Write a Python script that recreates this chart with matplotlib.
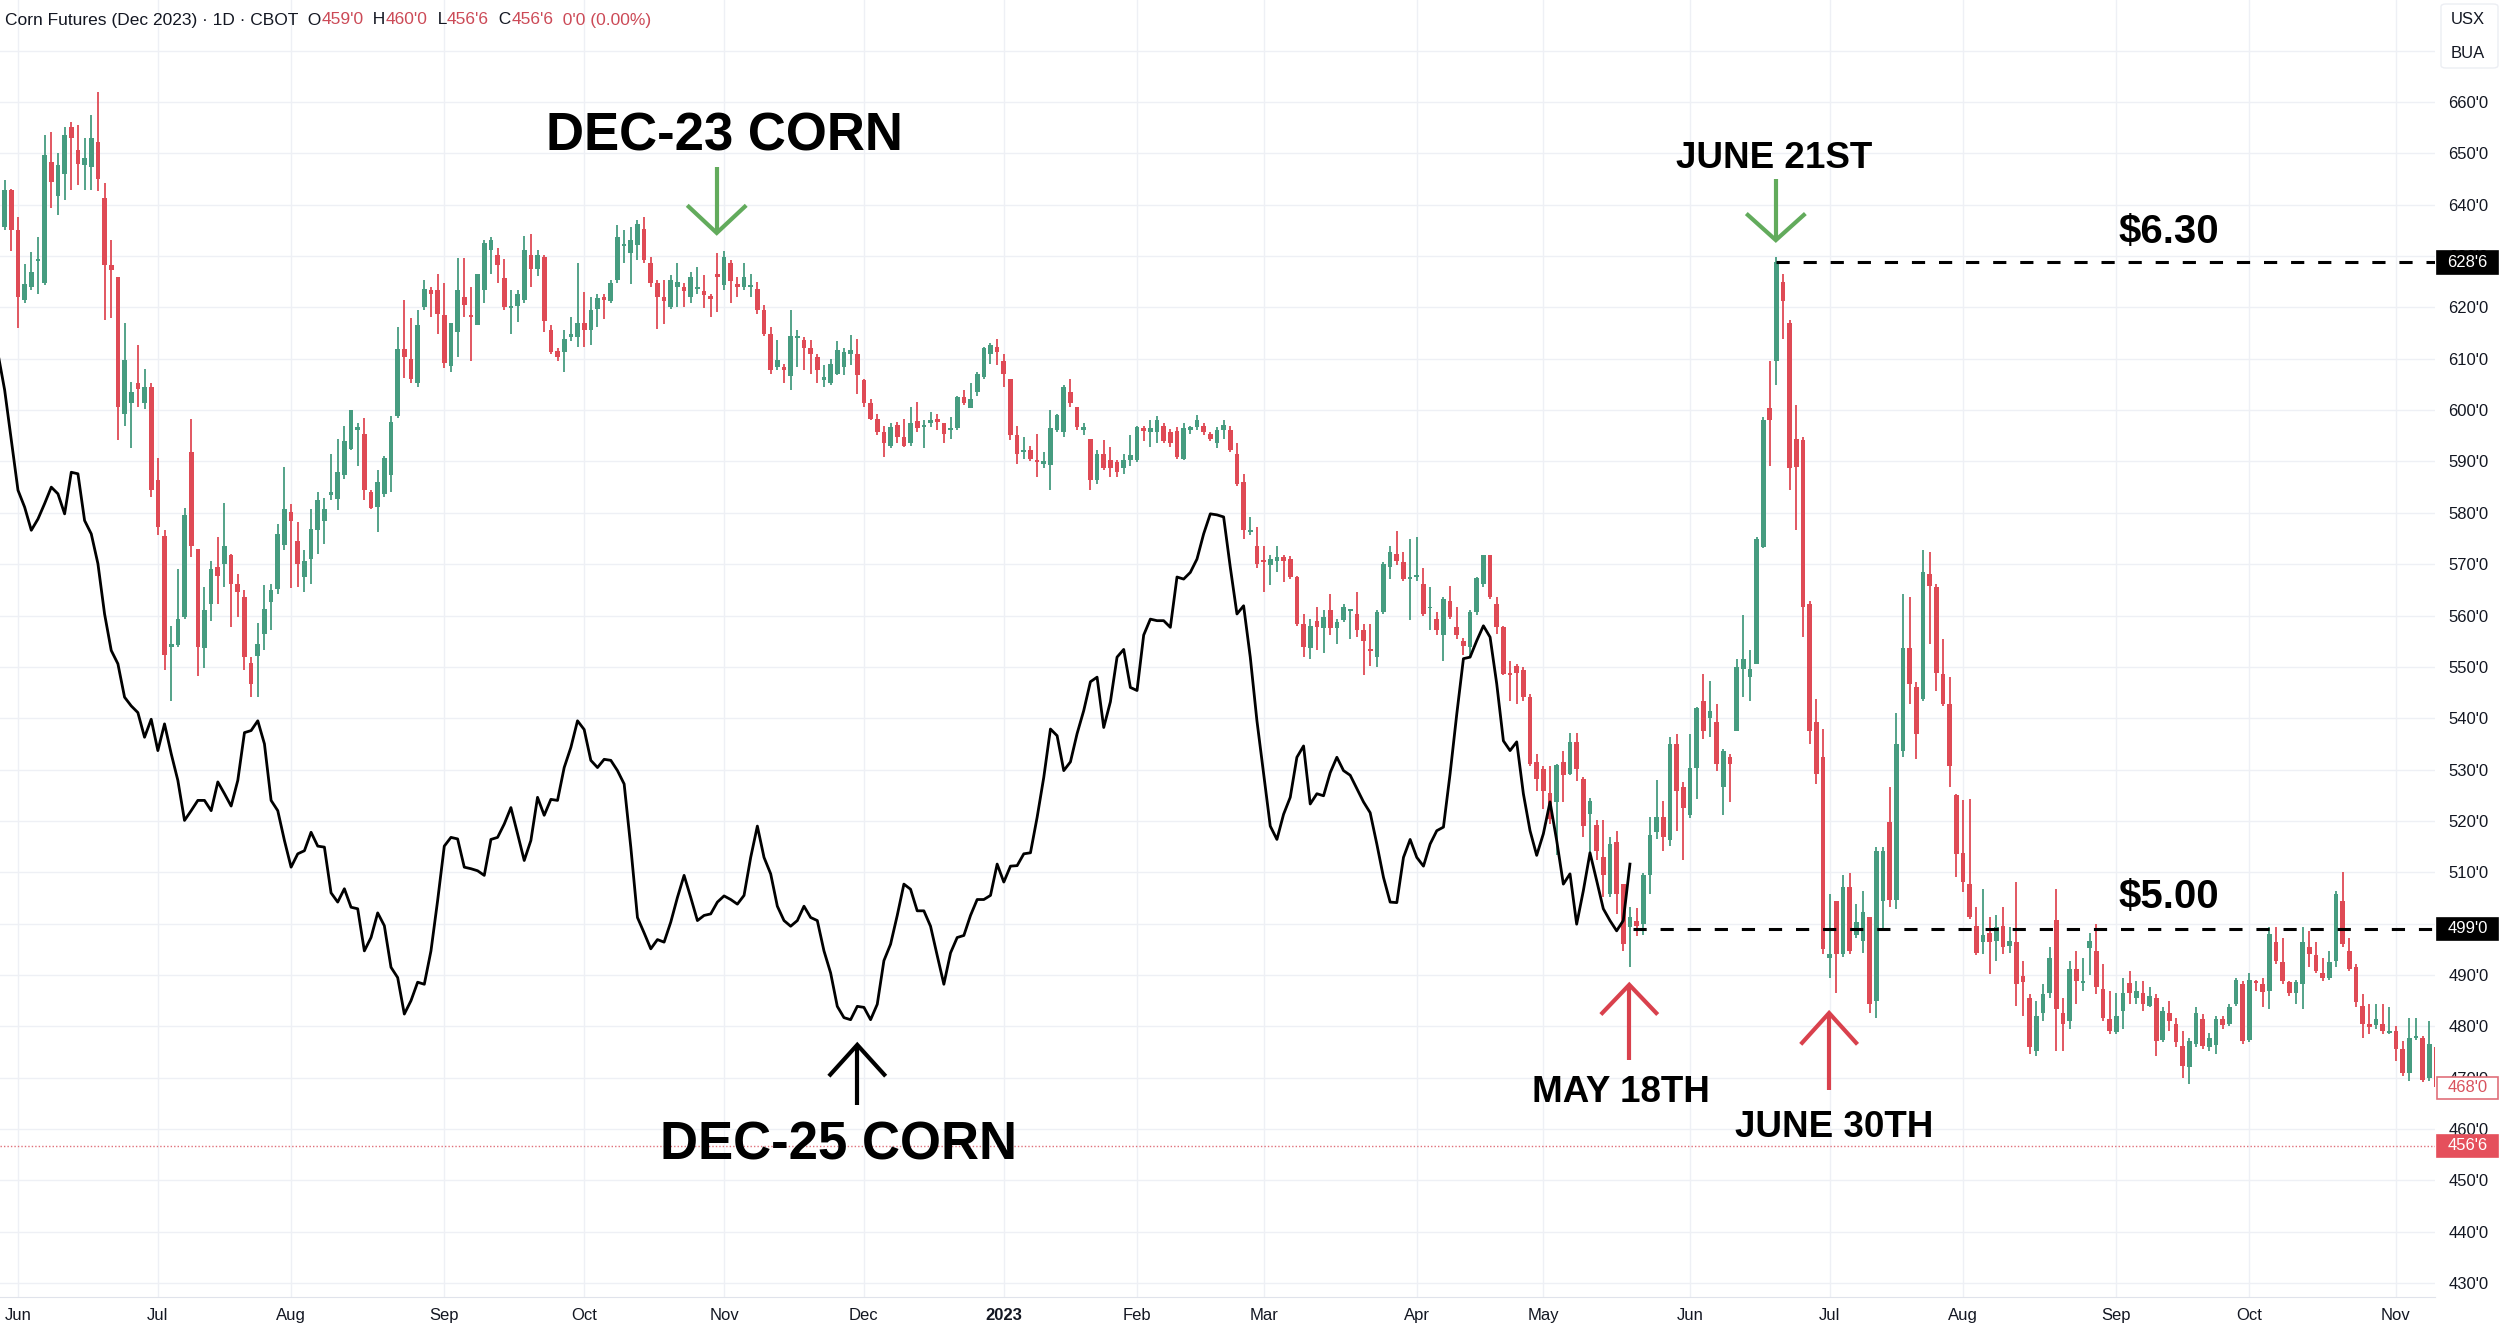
import numpy as np
import pandas as pd
import matplotlib
matplotlib.use("Agg")
import matplotlib.pyplot as plt
import matplotlib.transforms as mtransforms
from matplotlib.patches import Rectangle, FancyBboxPatch

plt.rcParams['font.family'] = ['Liberation Sans', 'DejaVu Sans']
plt.rcParams['lines.scale_dashes'] = False

# CBOT trading calendar for the window shown (index 0 = 1 Jun 2022)
start_date = '2022-05-26'
end_date = '2023-11-09'
holidays = ['2022-05-30', '2022-06-20', '2022-07-04', '2022-09-05', '2022-11-24',
            '2022-12-26', '2023-01-02', '2023-01-16', '2023-02-20', '2023-04-07',
            '2023-05-29', '2023-06-19', '2023-07-04', '2023-09-04']

# Dec-23 corn daily OHLC (cents/bu)
opens = [
    632.0, 635.7, 642.9, 635.0, 621.4, 624.0, 629.0, 624.7, 648.3, 641.6,
    646.0, 655.2, 650.6, 647.8, 647.4, 652.2, 641.3, 628.3, 626.0, 599.3,
    601.3, 605.2, 601.3, 604.5, 586.3, 575.5, 553.8, 554.2, 559.7, 591.8,
    573.0, 553.6, 562.3, 569.4, 570.0, 571.8, 566.2, 563.6, 550.8, 552.2,
    556.4, 562.6, 565.2, 573.7, 580.2, 574.6, 567.5, 571.0, 576.6, 578.5,
    583.5, 582.7, 587.4, 592.4, 596.1, 595.4, 584.0, 581.2, 583.7, 587.4,
    598.9, 611.9, 610.0, 605.2, 620.0, 623.4, 623.4, 618.6, 608.5, 615.3,
    622.0, 618.3, 616.6, 623.4, 631.2, 630.2, 625.7, 619.8, 620.3, 621.4,
    630.2, 627.5, 629.9, 615.6, 611.5, 611.4, 614.2, 614.2, 617.0, 615.6,
    619.7, 622.0, 621.2, 625.3, 632.0, 630.5, 632.2, 635.3, 628.6, 624.7,
    622.0, 620.1, 624.0, 624.0, 622.0, 623.6, 623.2, 622.3, 626.6, 624.4,
    628.6, 624.5, 624.0, 624.0, 623.6, 619.5, 614.9, 608.4, 608.4, 606.7,
    614.0, 613.6, 612.1, 610.4, 605.9, 605.2, 607.1, 608.4, 611.0, 611.0,
    605.8, 601.3, 598.3, 595.7, 593.1, 597.1, 594.8, 593.5, 597.8, 596.7,
    597.4, 598.3, 597.4, 596.1, 596.5, 602.6, 600.4, 603.5, 606.5, 611.0,
    612.3, 609.5, 606.1, 595.2, 591.8, 592.2, 590.3, 589.6, 589.3, 596.1,
    595.8, 603.6, 600.6, 596.1, 594.4, 586.3, 591.5, 590.2, 589.8, 588.7,
    590.2, 590.2, 596.5, 595.7, 595.8, 597.0, 595.7, 596.0, 590.5, 596.1,
    596.7, 597.0, 595.4, 593.5, 596.1, 596.1, 591.5, 586.0, 576.3, 573.6,
    570.9, 569.8, 570.7, 571.4, 571.0, 567.5, 558.4, 553.6, 559.0, 557.5,
    561.0, 557.5, 559.1, 560.9, 560.3, 557.1, 553.4, 551.9, 560.6, 569.4,
    572.0, 570.5, 567.2, 567.5, 566.2, 561.4, 559.4, 556.2, 562.9, 557.7,
    555.1, 553.8, 560.6, 566.2, 571.8, 562.3, 557.7, 548.6, 550.2, 549.3,
    544.1, 531.4, 530.2, 525.5, 523.7, 531.4, 529.2, 535.4, 528.1, 521.3,
    519.2, 512.9, 505.8, 515.9, 507.7, 499.3, 500.6, 499.9, 509.4, 517.8,
    520.7, 516.2, 535.0, 526.7, 521.1, 530.4, 543.4, 540.0, 539.3, 526.6,
    532.4, 537.6, 549.6, 548.0, 550.6, 573.3, 600.4, 609.5, 624.9, 616.9,
    594.4, 594.1, 562.3, 539.3, 532.4, 493.3, 504.5, 494.1, 507.1, 497.7,
    496.7, 501.2, 485.0, 504.5, 519.8, 504.7, 533.7, 553.6, 546.0, 543.7,
    568.1, 565.5, 548.6, 542.8, 525.0, 513.8, 507.7, 499.5, 496.4, 498.2,
    496.7, 499.5, 495.6, 496.4, 489.8, 485.6, 475.2, 482.6, 486.5, 500.8,
    482.6, 481.1, 491.2, 488.5, 495.2, 494.7, 487.2, 481.5, 478.9, 483.0,
    488.5, 485.6, 486.5, 483.9, 485.6, 477.4, 482.6, 480.4, 476.1, 472.0,
    476.5, 481.5, 475.9, 476.3, 481.5, 480.4, 484.3, 488.2, 477.4, 488.7,
    488.2, 486.9, 496.4, 492.5, 488.6, 486.5, 488.2, 495.4, 493.8, 490.4,
    489.5, 492.8, 504.5, 494.7, 491.5, 483.9, 480.4, 480.2, 480.4, 478.7,
    479.1, 475.6, 470.9, 477.8, 477.8, 470.0, 475.9]

highs = [
    645.0, 644.8, 643.0, 637.7, 628.5, 630.8, 633.8, 653.5, 654.2, 650.0,
    655.2, 656.2, 655.6, 653.0, 657.5, 662.0, 644.2, 633.1, 626.0, 617.0,
    605.4, 612.6, 608.0, 605.2, 590.6, 576.6, 558.0, 569.0, 580.9, 598.3,
    573.0, 565.5, 570.7, 575.3, 582.0, 572.0, 568.0, 564.9, 551.9, 558.6,
    565.9, 566.2, 577.9, 588.9, 581.8, 578.3, 572.7, 580.7, 584.0, 582.8,
    591.5, 594.4, 597.0, 600.0, 597.4, 598.4, 584.4, 588.3, 591.1, 598.9,
    616.2, 621.4, 617.9, 619.5, 625.3, 624.0, 626.6, 624.7, 616.9, 629.6,
    629.6, 624.0, 626.6, 633.1, 633.8, 631.5, 629.5, 623.4, 623.4, 634.0,
    634.2, 631.2, 630.2, 616.6, 612.0, 615.6, 618.2, 628.6, 623.0, 622.0,
    622.7, 622.7, 625.3, 636.0, 635.0, 635.7, 637.0, 637.7, 629.9, 625.3,
    625.3, 626.4, 628.6, 624.7, 626.9, 627.9, 626.4, 622.7, 630.5, 630.9,
    629.2, 626.0, 628.6, 626.6, 624.9, 620.4, 616.2, 613.6, 609.0, 619.5,
    615.6, 614.2, 613.6, 611.0, 608.7, 610.0, 613.4, 612.0, 614.7, 613.9,
    606.1, 602.2, 599.3, 597.0, 597.4, 597.6, 598.3, 600.6, 601.5, 598.0,
    599.6, 599.3, 597.4, 598.7, 602.8, 603.9, 605.2, 607.4, 612.3, 613.0,
    613.9, 611.0, 606.1, 597.0, 594.8, 593.1, 595.4, 591.8, 600.0, 599.3,
    604.9, 606.1, 600.6, 597.4, 594.4, 592.2, 594.1, 592.8, 590.2, 591.5,
    595.2, 597.0, 597.0, 598.0, 598.9, 597.4, 596.3, 596.7, 597.4, 597.0,
    599.0, 597.4, 595.8, 596.7, 598.0, 597.0, 593.5, 587.6, 579.2, 577.2,
    573.6, 571.8, 573.6, 571.8, 571.6, 567.7, 560.3, 559.3, 561.6, 561.0,
    564.2, 559.3, 562.3, 561.2, 564.5, 558.4, 558.4, 561.0, 570.5, 573.6,
    576.5, 572.3, 574.9, 575.3, 569.2, 565.5, 560.6, 563.6, 565.8, 561.6,
    555.6, 561.0, 567.5, 571.8, 571.8, 563.6, 558.0, 551.2, 550.6, 549.9,
    544.7, 533.1, 530.7, 530.7, 531.1, 533.7, 537.2, 537.2, 528.5, 524.4,
    520.1, 520.1, 516.8, 518.1, 507.7, 503.2, 503.0, 509.9, 520.7, 527.9,
    523.9, 536.3, 536.9, 527.5, 536.9, 542.2, 548.6, 547.3, 542.8, 534.1,
    533.1, 551.5, 560.1, 553.2, 575.3, 598.7, 609.5, 629.9, 626.6, 617.5,
    600.9, 594.8, 562.9, 543.7, 538.0, 505.8, 504.5, 509.4, 509.9, 503.8,
    506.4, 501.2, 514.9, 514.9, 526.6, 541.1, 564.2, 563.6, 547.1, 572.7,
    572.3, 566.2, 555.4, 548.0, 525.3, 524.0, 524.2, 503.2, 506.8, 501.2,
    501.6, 503.2, 499.3, 508.1, 492.8, 486.3, 485.0, 488.2, 495.4, 506.7,
    485.6, 492.8, 494.7, 493.4, 498.2, 499.9, 492.1, 486.9, 486.5, 489.5,
    490.8, 488.9, 488.9, 487.6, 486.3, 483.7, 484.9, 481.7, 479.1, 477.8,
    483.7, 482.4, 478.7, 482.1, 482.1, 484.3, 489.5, 488.9, 490.4, 489.1,
    489.5, 499.3, 499.3, 497.3, 488.9, 489.1, 499.3, 498.5, 496.4, 493.4,
    494.7, 506.4, 510.0, 497.3, 492.1, 486.3, 484.3, 484.3, 484.3, 483.7,
    480.0, 477.2, 481.7, 481.7, 478.2, 481.1, 476.5]

lows = [
    630.0, 635.0, 631.0, 616.0, 620.8, 623.4, 622.7, 624.3, 639.4, 638.0,
    640.9, 642.9, 643.9, 642.9, 642.9, 642.6, 617.5, 617.9, 594.1, 597.0,
    592.6, 600.6, 600.2, 583.1, 575.7, 549.3, 543.4, 553.8, 559.3, 571.4,
    548.3, 549.7, 559.0, 562.3, 565.5, 557.7, 559.7, 549.3, 544.1, 544.1,
    553.2, 557.1, 564.2, 572.7, 565.3, 565.5, 564.6, 566.2, 572.0, 574.0,
    582.4, 580.5, 586.6, 592.2, 589.2, 582.4, 580.7, 576.3, 583.1, 584.0,
    598.4, 606.2, 605.2, 604.5, 619.5, 618.2, 614.9, 608.2, 607.4, 610.4,
    618.2, 609.5, 616.6, 620.8, 626.6, 624.7, 619.5, 614.9, 617.2, 620.8,
    624.0, 626.2, 615.3, 611.0, 609.5, 607.4, 613.5, 612.3, 612.3, 612.6,
    616.2, 617.8, 620.8, 624.7, 628.6, 624.5, 629.2, 628.6, 624.0, 615.8,
    616.8, 619.7, 620.1, 620.1, 620.8, 622.7, 619.9, 618.2, 619.2, 623.4,
    620.8, 622.0, 623.4, 622.0, 618.8, 614.5, 607.1, 607.8, 605.2, 604.0,
    608.4, 607.8, 607.1, 605.2, 604.5, 604.8, 606.9, 606.9, 608.7, 603.2,
    600.6, 598.0, 595.2, 590.9, 592.6, 593.5, 592.8, 593.1, 595.7, 592.6,
    596.7, 596.1, 593.5, 594.4, 596.1, 600.9, 600.4, 602.8, 606.1, 609.0,
    608.7, 604.5, 594.2, 589.6, 590.5, 590.0, 587.0, 588.7, 584.4, 595.7,
    594.8, 600.6, 596.1, 595.2, 584.4, 585.7, 588.3, 587.0, 587.0, 587.6,
    589.2, 589.8, 593.9, 592.8, 593.5, 593.5, 592.8, 590.5, 590.2, 595.4,
    596.1, 595.2, 593.9, 592.6, 594.4, 591.8, 585.3, 574.9, 575.7, 569.2,
    564.6, 565.9, 568.4, 566.6, 567.1, 558.0, 551.9, 551.6, 553.2, 552.8,
    556.2, 554.5, 558.8, 555.4, 555.8, 548.4, 550.2, 549.9, 560.3, 567.1,
    569.8, 566.8, 559.1, 566.8, 559.9, 557.1, 556.2, 551.2, 559.3, 555.4,
    552.3, 551.9, 560.1, 565.5, 563.2, 556.4, 548.4, 543.4, 542.8, 543.4,
    530.7, 525.9, 522.4, 519.4, 513.3, 523.7, 528.9, 527.8, 516.8, 512.9,
    512.3, 505.1, 505.1, 501.9, 494.7, 491.5, 497.5, 497.7, 505.8, 516.4,
    514.2, 515.1, 518.1, 512.3, 520.5, 524.2, 535.9, 536.3, 529.8, 521.1,
    523.7, 537.6, 544.1, 543.4, 550.6, 573.1, 589.2, 604.9, 613.9, 584.4,
    576.6, 555.8, 535.0, 527.2, 494.1, 489.5, 486.5, 493.5, 494.1, 497.3,
    494.3, 482.6, 481.7, 498.6, 503.2, 502.9, 532.4, 542.8, 532.0, 543.4,
    554.5, 545.4, 542.4, 526.6, 509.0, 506.2, 500.9, 493.8, 494.1, 490.2,
    492.8, 494.1, 494.3, 484.0, 482.1, 474.6, 474.3, 481.1, 485.6, 475.2,
    475.2, 479.4, 484.3, 486.9, 490.0, 486.3, 481.1, 478.5, 478.5, 479.4,
    484.3, 484.3, 483.0, 483.7, 474.3, 476.9, 479.1, 475.9, 470.0, 468.7,
    475.9, 475.6, 475.2, 474.6, 479.5, 480.0, 483.9, 476.5, 476.9, 486.9,
    483.7, 483.4, 492.1, 488.2, 486.0, 484.3, 483.4, 491.5, 490.4, 488.9,
    489.1, 491.5, 495.4, 490.8, 483.7, 477.8, 478.5, 479.4, 478.5, 478.5,
    473.3, 470.4, 469.4, 477.4, 469.1, 469.4, 467.4]

closes = [
    640.0, 642.9, 635.0, 622.0, 624.6, 626.9, 629.5, 649.6, 644.5, 647.8,
    653.5, 653.0, 648.0, 649.0, 653.0, 645.0, 628.3, 627.3, 600.6, 609.7,
    603.6, 604.2, 604.5, 584.4, 577.2, 552.3, 554.5, 559.4, 579.6, 573.6,
    553.8, 561.0, 569.0, 567.7, 573.6, 566.2, 564.6, 551.9, 546.7, 554.5,
    561.3, 564.9, 575.9, 580.7, 578.5, 570.1, 570.7, 576.8, 582.4, 580.7,
    584.0, 587.9, 593.9, 600.0, 596.7, 584.4, 580.9, 586.0, 590.6, 597.6,
    611.9, 610.4, 606.1, 616.6, 623.6, 622.7, 618.8, 609.1, 616.9, 623.4,
    620.4, 618.1, 626.6, 632.5, 633.1, 628.2, 620.1, 620.3, 622.7, 631.2,
    627.5, 630.2, 617.3, 611.3, 610.3, 613.9, 614.9, 617.0, 615.6, 619.5,
    621.8, 621.5, 624.7, 633.8, 632.3, 633.1, 636.3, 629.2, 624.7, 622.0,
    621.2, 625.3, 624.9, 623.1, 626.0, 623.9, 622.5, 621.6, 626.0, 629.9,
    625.1, 624.0, 626.0, 624.4, 619.5, 614.9, 607.8, 609.7, 607.8, 614.5,
    614.4, 612.1, 611.0, 607.8, 606.4, 609.0, 611.7, 611.4, 611.7, 606.9,
    601.3, 598.3, 595.7, 593.5, 596.7, 594.8, 593.1, 597.4, 596.5, 597.0,
    598.0, 597.6, 595.4, 596.5, 602.6, 601.3, 602.2, 607.1, 612.0, 612.6,
    611.3, 607.1, 595.2, 591.5, 592.2, 590.5, 589.9, 590.0, 596.5, 599.0,
    604.5, 601.3, 596.7, 596.7, 586.3, 591.5, 588.7, 588.7, 587.9, 590.2,
    591.2, 596.7, 596.0, 596.5, 598.0, 593.9, 593.5, 590.9, 596.5, 596.7,
    598.0, 595.7, 594.4, 596.1, 597.1, 592.2, 585.7, 576.6, 576.6, 570.1,
    570.5, 571.1, 571.4, 570.7, 567.5, 558.4, 553.8, 558.0, 557.7, 559.7,
    557.5, 558.8, 561.6, 561.1, 557.1, 555.1, 553.1, 560.6, 570.1, 572.4,
    570.7, 567.2, 567.4, 567.8, 560.3, 561.6, 557.1, 563.2, 559.7, 556.2,
    554.1, 560.6, 567.4, 571.8, 563.6, 557.7, 548.6, 548.4, 548.9, 544.1,
    531.1, 528.1, 525.9, 520.4, 530.9, 528.9, 535.4, 530.2, 519.0, 523.8,
    514.2, 509.4, 515.5, 505.8, 496.1, 501.2, 499.6, 509.4, 517.2, 520.7,
    516.8, 535.0, 525.9, 522.6, 530.4, 541.9, 537.6, 541.5, 531.1, 533.7,
    531.1, 549.9, 551.5, 549.6, 574.9, 598.0, 598.0, 628.75, 621.2, 588.7,
    589.0, 561.6, 537.6, 529.2, 495.1, 494.1, 494.1, 507.1, 494.7, 500.3,
    502.2, 484.3, 514.2, 514.2, 504.7, 535.0, 553.6, 546.7, 537.0, 568.5,
    565.8, 548.9, 542.8, 530.7, 513.6, 508.1, 501.2, 494.3, 497.7, 496.4,
    499.3, 495.4, 496.6, 488.2, 488.6, 475.9, 482.1, 486.3, 493.4, 483.4,
    480.4, 491.2, 488.9, 488.8, 496.7, 487.6, 481.7, 479.1, 482.1, 486.5,
    486.5, 486.9, 484.3, 486.0, 477.2, 483.0, 481.1, 476.9, 472.2, 477.2,
    482.6, 476.1, 477.8, 481.5, 480.2, 483.7, 489.1, 477.2, 489.1, 488.4,
    486.7, 498.0, 492.8, 488.9, 486.5, 488.6, 496.4, 494.1, 490.8, 489.5,
    492.5, 505.8, 496.1, 491.2, 484.7, 480.4, 479.8, 481.5, 479.1, 479.1,
    475.6, 470.9, 477.8, 478.2, 469.6, 476.5, 468.1]

# Dec-25 corn overlay (daily, same price axis), ends on 18 May 2023
dec25 = [
    611.0, 603.9, 594.1, 584.4, 581.1, 576.6, 578.8, 581.8, 585.0, 583.7,
    579.8, 587.9, 587.6, 578.5, 575.9, 570.1, 560.3, 553.2, 550.6, 544.1,
    542.4, 541.1, 536.3, 539.8, 533.7, 538.9, 533.1, 527.9, 520.1, 522.0,
    524.0, 524.0, 522.0, 527.6, 525.3, 522.9, 527.9, 537.2, 537.6, 539.5,
    535.0, 524.0, 522.0, 516.2, 511.0, 513.6, 514.2, 517.8, 515.1, 514.9,
    506.0, 504.2, 506.8, 503.2, 502.9, 494.7, 497.3, 502.1, 499.6, 491.5,
    489.5, 482.4, 485.0, 488.6, 488.2, 494.7, 504.5, 515.1, 516.8, 516.5,
    511.0, 510.7, 510.3, 509.4, 516.4, 516.8, 519.4, 522.6, 517.5, 512.3,
    516.2, 524.6, 521.1, 524.2, 524.0, 530.4, 534.3, 539.5, 537.8, 531.8,
    530.4, 532.0, 531.8, 529.8, 527.2, 514.9, 501.2, 498.2, 495.1, 496.9,
    496.4, 500.3, 505.1, 509.4, 505.1, 500.6, 501.6, 501.9, 504.2, 505.4,
    504.7, 503.8, 505.5, 512.9, 519.0, 512.9, 509.7, 503.4, 500.6, 499.5,
    500.6, 503.4, 501.2, 500.6, 494.7, 490.4, 483.9, 481.7, 481.3, 483.9,
    483.7, 481.3, 484.3, 492.8, 496.0, 501.6, 507.7, 506.7, 502.5, 502.5,
    499.5, 493.8, 488.2, 494.3, 497.3, 497.7, 501.6, 504.7, 504.7, 505.5,
    511.6, 508.1, 511.2, 511.3, 513.6, 513.8, 520.7, 528.5, 537.9, 536.6,
    529.8, 531.5, 537.0, 541.5, 547.1, 548.0, 538.2, 543.2, 551.9, 553.4,
    546.0, 545.4, 556.2, 559.3, 559.0, 559.0, 557.7, 567.5, 567.1, 568.4,
    571.0, 575.9, 579.8, 579.6, 579.2, 569.4, 560.3, 561.9, 551.9, 539.5,
    529.2, 519.0, 516.4, 521.3, 524.6, 532.4, 534.6, 523.3, 525.3, 524.9,
    529.4, 532.4, 529.8, 528.9, 526.3, 523.7, 521.6, 515.5, 509.0, 504.2,
    504.1, 512.9, 516.4, 512.9, 511.2, 515.5, 518.1, 518.8, 529.2, 540.8,
    551.6, 551.9, 555.1, 558.0, 555.8, 546.7, 535.6, 533.7, 535.4, 525.3,
    518.1, 513.3, 517.5, 523.7, 516.2, 507.7, 509.7, 499.9, 506.4, 513.8,
    508.4, 502.9, 500.6, 498.6, 500.6, 511.6]

high_level = 628.75   # 21 Jun 2023 close
low_level = 499.0     # 18 May 2023 area
last_price = 456.75
visible_close = 468.0
high_date = '2023-06-21'
low_date = '2023-05-18'
y_ticks = list(range(430, 671, 10))

GREEN = '#469c80'
RED = '#df4a55'
GRID = '#eef0f5'
TXT = '#131722'

dates = pd.bdate_range(start_date, end_date)
dates = dates[~dates.isin(pd.to_datetime(holidays))]
x = np.arange(len(dates)) - 3

o = np.array(opens); h = np.array(highs); l = np.array(lows); c = np.array(closes)
colors = np.where(c >= o, GREEN, RED)

fig = plt.figure(figsize=(25, 13.28), dpi=100)
ax = fig.add_axes([0, 1 - 1297 / 1328, 2435 / 2500, 1297 / 1328])
ax.set_facecolor('white')

# candles
ax.vlines(x, l, h, colors=colors, lw=1.3, zorder=3)
ax.bar(x, np.maximum(np.abs(c - o), 0.35), bottom=np.minimum(o, c), width=0.7,
       color=colors, linewidth=0, zorder=4)

# Dec-25 line
ax.plot(x[:len(dec25)], dec25, color='black', lw=2.0, zorder=5)

# reference levels
i_high = int(np.where(dates == pd.Timestamp(high_date))[0][0])
i_low = int(np.where(dates == pd.Timestamp(low_date))[0][0])
ax.hlines(high_level, x[i_high], 400, colors='black', lw=2.2,
          linestyles=(0, (9.5, 10)), zorder=6)
ax.hlines(low_level, x[i_low] + 0.5, 400, colors='black', lw=2.2,
          linestyles=(0, (9.5, 10)), zorder=6)
ax.axhline(last_price, color='#e0707a', lw=1.0, linestyle=(0, (1, 1.5)), zorder=2)

ax.set_xlim(-2.70, 362.86)
ax.set_ylim(427.3, 679.86)

# axes / grid
for s in ['top', 'left', 'right']:
    ax.spines[s].set_visible(False)
ax.spines['bottom'].set_color('#e0e3eb')
ax.set_axisbelow(True)
ax.yaxis.tick_right()
ax.set_yticks(y_ticks)
ax.set_yticklabels([f"{v}'0" if v <= 660 else '' for v in y_ticks])
ax.tick_params(axis='y', length=0, pad=9.5, labelsize=12, labelcolor=TXT)

first_days = pd.Series(x, index=dates).groupby([dates.year, dates.month]).first()
tick_pos, tick_lab = [], []
for (yr, mo), pos in first_days.items():
    if pos < 0:
        continue
    tick_pos.append(pos)
    tick_lab.append(str(yr) if mo == 1 else pd.Timestamp(yr, mo, 1).strftime('%b'))
ax.set_xticks(tick_pos)
ax.set_xticklabels(tick_lab)
ax.tick_params(axis='x', length=0, pad=8, labelsize=12, labelcolor=TXT)
for t in ax.get_xticklabels():
    if t.get_text() == '2023':
        t.set_fontweight('bold')
ax.grid(True, color=GRID, lw=1.0)

# annotations
def arrow(xc, y_tip, y_tail, y_wing, half_w, color):
    ax.plot([xc, xc], [y_tail, y_tip], color=color, lw=3.0, zorder=7,
            solid_capstyle='butt', clip_on=False)
    ax.plot([xc - half_w, xc, xc + half_w], [y_wing, y_tip, y_wing], color=color,
            lw=3.0, zorder=7, solid_joinstyle='miter', clip_on=False)

arrow(104.9, 634.5, 647.3, 639.6, 4.2, '#62ab5c')
arrow(263.9, 633.1, 645.0, 638.0, 4.2, '#62ab5c')
arrow(241.9, 488.1, 473.5, 482.6, 4.05, '#d9414d')
arrow(271.9, 482.6, 467.6, 476.8, 4.05, '#d9414d')
arrow(126.0, 476.4, 464.7, 470.6, 4.05, 'black')

big = dict(fontsize=38, fontweight='bold', ha='center', va='baseline', color='black', zorder=8)
mid = dict(fontsize=26.5, fontweight='bold', ha='center', va='baseline', color='black', zorder=8)
ax.text(106.1, 650.6, 'DEC-23 CORN', **big)
ax.text(123.2, 454.0, 'DEC-25 CORN', **big)
ax.text(263.7, 647.1, 'JUNE 21ST', **mid)
ax.text(240.7, 465.3, 'MAY 18TH', **mid)
ax.text(272.7, 458.5, 'JUNE 30TH', **mid)
ax.text(322.9, 632.6, '$6.30', fontsize=29, fontweight='bold', ha='center', va='baseline', zorder=8)
ax.text(322.9, 503.1, '$5.00', fontsize=29, fontweight='bold', ha='center', va='baseline', zorder=8)

# price tags on the right scale
blend = mtransforms.blended_transform_factory(fig.transFigure, ax.transData)

def price_tag(value, text, face, edge, color):
    fig.add_artist(Rectangle((2437 / 2500, value - 2.15), 61 / 2500, 4.3, transform=blend,
                             facecolor=face, edgecolor=edge, lw=1.2, clip_on=False, zorder=5))
    fig.text(2467.5 / 2500, value, text, transform=blend, ha='center', va='center',
             color=color, fontsize=12, zorder=6)

price_tag(high_level, "628'6", 'black', 'black', 'white')
price_tag(low_level, "499'0", 'black', 'black', 'white')
price_tag(visible_close, "468'0", 'white', '#e0707a', '#d9535e')
price_tag(last_price, "456'6", '#e5505c', '#e5505c', 'white')

# unit box top right
fig.add_artist(FancyBboxPatch((2441 / 2500, 1 - 68 / 1328), 57 / 2500, 64 / 1328,
                              boxstyle='round,pad=0,rounding_size=0.002',
                              transform=fig.transFigure, facecolor='white',
                              edgecolor='#eceef3', lw=1.0, zorder=5))
fig.text(2468 / 2500, 1 - 20 / 1328, 'USX', ha='center', va='center', fontsize=12, color=TXT, zorder=6)
fig.text(2468 / 2500, 1 - 53 / 1328, 'BUA', ha='center', va='center', fontsize=12, color=TXT, zorder=6)

# header line
header = [("Corn Futures (Dec 2023) · 1D · CBOT  O", TXT), ("459'0", '#cc4a57'),
          ("  H", TXT), ("460'0", '#cc4a57'), ("  L", TXT), ("456'6", '#cc4a57'),
          ("  C", TXT), ("456'6", '#cc4a57'), ("  0'0 (0.00%)", '#cc4a57')]
prev = fig.text(5 / 2500, 1 - 20 / 1328, header[0][0], ha='left', va='center',
                fontsize=12.5, color=header[0][1])
for s, col in header[1:]:
    prev = ax.annotate(s, xy=(1, 0), xycoords=prev, ha='left', va='bottom',
                       fontsize=12.5, color=col, annotation_clip=False)

fig.savefig('out.png', dpi=100, facecolor='white')
